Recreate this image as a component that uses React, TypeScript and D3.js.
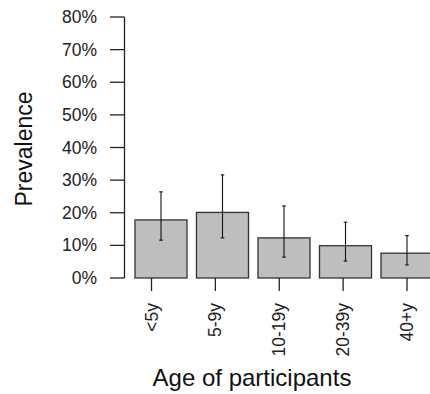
import React from 'react';
import * as d3 from 'd3';

const categories = ['<5y', '5-9y', '10-19y', '20-39y', '40+y'];
const prevalence = [0.178, 0.201, 0.123, 0.099, 0.076];
const lower = [0.116, 0.123, 0.064, 0.052, 0.04];
const upper = [0.264, 0.316, 0.221, 0.171, 0.13];
const yTicks = [0, 0.1, 0.2, 0.3, 0.4, 0.5, 0.6, 0.7, 0.8];

const W = 430;
const H = 394;
const font = 'Liberation Sans, Arial, sans-serif';

function App() {
    const yScale = d3.scaleLinear().domain([0, 0.8]).range([278, 17]);

    const xBand = d3
        .scaleBand()
        .domain(categories)
        .range([130.25, 130.25 + 5 * 61.5])
        .paddingInner(0.154)
        .paddingOuter(0.077);

    // axis ticks do not sit on bar centres in the original
    const xTick = d3.scalePoint().domain(categories).range([151.5, 407]);

    const axisX = 124.5;

    return (
        <svg width={W} height={H} style={{ position: 'absolute', left: 0, top: 0, background: '#fff' }}>
            {/* y axis */}
            <line x1={axisX} x2={axisX} y1={yScale(0.8)} y2={yScale(0)} stroke="#222" strokeWidth={1.3} />
            {yTicks.map((t) => (
                <g key={t}>
                    <line x1={110} x2={axisX} y1={yScale(t)} y2={yScale(t)} stroke="#222" strokeWidth={1.3} />
                    <text
                        x={97}
                        y={yScale(t)}
                        textAnchor="end"
                        dominantBaseline="central"
                        fontFamily={font}
                        fontSize={17.5}
                        fill="#222"
                    >
                        {d3.format('.0%')(t)}
                    </text>
                </g>
            ))}

            {/* bars */}
            {categories.map((c, i) => (
                <rect
                    key={c}
                    x={xBand(c)}
                    y={yScale(prevalence[i])}
                    width={xBand.bandwidth()}
                    height={yScale(0) - yScale(prevalence[i])}
                    fill="#bebebe"
                    stroke="#333"
                    strokeWidth={1.3}
                />
            ))}

            {/* error bars */}
            {categories.map((c, i) => {
                let cx = xBand(c) + xBand.bandwidth() / 2;
                return (
                    <g key={c} stroke="#111" strokeWidth={1.1}>
                        <line x1={cx} x2={cx} y1={yScale(upper[i])} y2={yScale(lower[i])} />
                        <line x1={cx - 1.8} x2={cx + 1.8} y1={yScale(upper[i])} y2={yScale(upper[i])} />
                        <line x1={cx - 1.8} x2={cx + 1.8} y1={yScale(lower[i])} y2={yScale(lower[i])} />
                    </g>
                );
            })}

            {/* x ticks and labels */}
            {categories.map((c) => (
                <g key={c}>
                    <line x1={xTick(c)} x2={xTick(c)} y1={278} y2={291} stroke="#222" strokeWidth={1.3} />
                    <text
                        transform={`translate(${xTick(c) + 6},303) rotate(-90)`}
                        textAnchor="end"
                        fontFamily={font}
                        fontSize={17.5}
                        fill="#222"
                    >
                        {c}
                    </text>
                </g>
            ))}

            {/* axis titles */}
            <text
                transform="translate(32,149) rotate(-90)"
                textAnchor="middle"
                fontFamily={font}
                fontSize={23}
                fill="#111"
            >
                Prevalence
            </text>
            <text x={252} y={386} textAnchor="middle" fontFamily={font} fontSize={24} fill="#111">
                Age of participants
            </text>
        </svg>
    );
}

export default App;
